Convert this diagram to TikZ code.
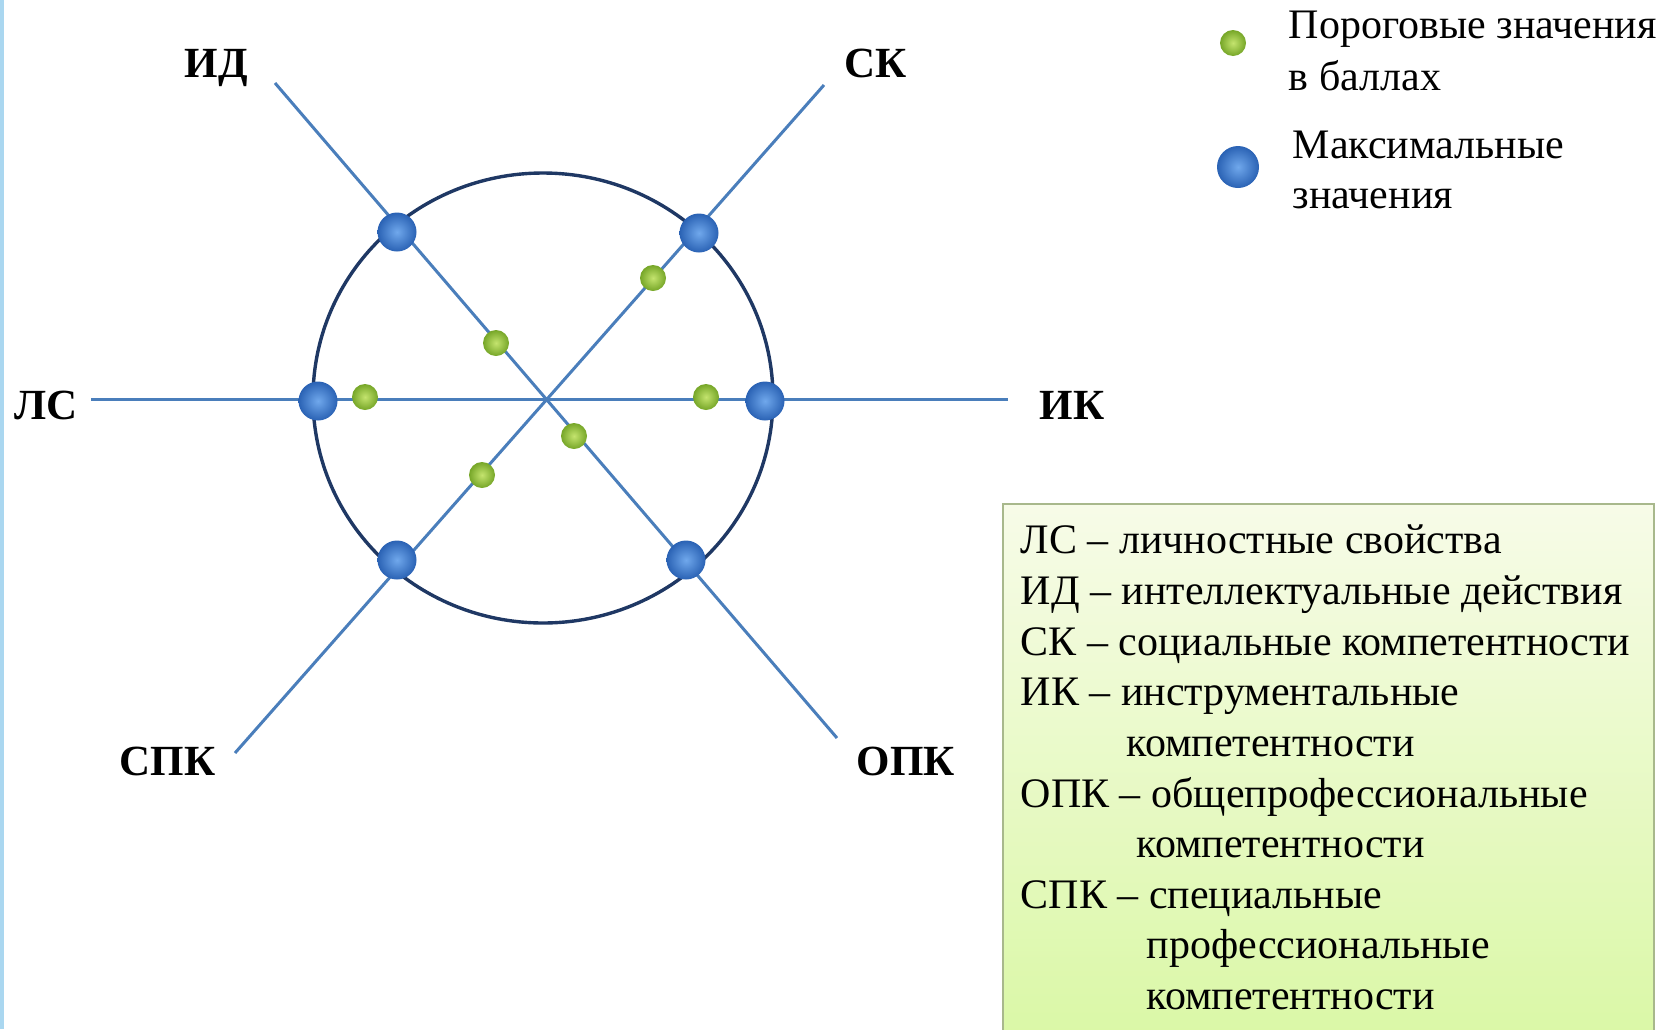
\documentclass[tikz,border=0pt]{standalone}
\usepackage{fontspec}
\setmainfont{Liberation Serif}

\definecolor{axisblue}{RGB}{74,126,187}
\definecolor{ringblue}{RGB}{31,56,100}
\definecolor{maxin}{RGB}{112,168,236}
\definecolor{maxout}{RGB}{42,98,180}
\definecolor{minin}{RGB}{196,228,110}
\definecolor{minout}{RGB}{118,166,40}

\tikzset{every picture/.style={line width=0.75pt}}
\tikzset{
  axis/.style={draw=axisblue, line width=1.5pt},
  maxdot/.style={circle, inner sep=0pt, minimum size=19.5pt, shading=radial, inner color=maxin, outer color=maxout},
  mindot/.style={circle, inner sep=0pt, minimum size=13pt, shading=radial, inner color=minin, outer color=minout},
  lbl/.style={anchor=base west, inner sep=0pt, font=\fontsize{21.5}{25}\selectfont\bfseries},
  txt/.style={anchor=base west, inner sep=0pt, font=\fontsize{21}{25}\selectfont}
}

\begin{document}
\begin{tikzpicture}[x=0.5pt,y=0.5pt,yscale=-1,xscale=1]
\useasboundingbox (0,0) rectangle (1672,1029);

%Shape: Rectangle [left strip]
\fill [color={rgb, 255:red, 170; green, 215; blue, 240 }] (0,0) rectangle (4,1029);

%Coordinates
\coordinate (c) at (545,398);
\coordinate (ls-end) at (91,399);
\coordinate (ik-end) at (1008,399);
\coordinate (id-end) at (275,83);
\coordinate (opk-end) at (837,738);
\coordinate (sk-end) at (824,85);
\coordinate (spk-end) at (235,753);

%Shape: Ellipse
\draw [color=ringblue, line width=1.7pt] (543,398) ellipse (230 and 225);

%Straight Lines
\draw [axis] (ls-end) -- (ik-end);
\draw [axis] (id-end) -- (opk-end);
\draw [axis] (sk-end) -- (spk-end);

%Max dots
\node [maxdot] (ls-max) at (318,401) {};
\node [maxdot] (ik-max) at (765,401) {};
\node [maxdot] (id-max) at (397,232) {};
\node [maxdot] (sk-max) at (699,233) {};
\node [maxdot] (spk-max) at (397,560) {};
\node [maxdot] (opk-max) at (686,560) {};

%Threshold dots
\node [mindot] (ls-min) at (365,397) {};
\node [mindot] (ik-min) at (706,397) {};
\node [mindot] (id-min) at (496,343) {};
\node [mindot] (opk-min) at (574,436) {};
\node [mindot] (sk-min) at (653,278) {};
\node [mindot] (spk-min) at (482,475) {};

% Text Node
\node [lbl] (id-lbl) at (184,77) {ИД};
% Text Node
\node [lbl] (sk-lbl) at (844,77) {СК};
% Text Node
\node [lbl] (ls-lbl) at (14,419) {ЛС};
% Text Node
\node [lbl] (ik-lbl) at (1039,419) {ИК};
% Text Node
\node [lbl] (spk-lbl) at (119,775) {СПК};
% Text Node
\node [lbl] (opk-lbl) at (856,775) {ОПК};

%Legend
\node [mindot] (leg-min) at (1233,43) {};
\node [maxdot, minimum size=21pt] (leg-max) at (1238,167) {};
% Text Node
\node [txt] (leg-min-t1) at (1288,38) {Пороговые значения};
% Text Node
\node [txt] (leg-min-t2) at (1288,90) {в баллах};
% Text Node
\node [txt] (leg-max-t1) at (1292,158) {Максимальные};
% Text Node
\node [txt] (leg-max-t2) at (1292,208) {значения};

%Shape: Rectangle [key box]
\draw [draw={rgb, 255:red, 168; green, 184; blue, 140 }, line width=1pt, top color={rgb, 255:red, 247; green, 251; blue, 232 }, bottom color={rgb, 255:red, 218; green, 248; blue, 166 }] (1003,504) rectangle (1654,1040);

% Text Node
\node [txt] (key-1) at (1020,553) {ЛС – личностные свойства};
% Text Node
\node [txt] (key-2) at (1020,604) {ИД – интеллектуальные действия};
% Text Node
\node [txt] (key-3) at (1020,655) {СК – социальные компетентности};
% Text Node
\node [txt] (key-4) at (1020,705) {ИК – инструментальные};
% Text Node
\node [txt] (key-5) at (1126,756) {компетентности};
% Text Node
\node [txt] (key-6) at (1020,807) {ОПК – общепрофессиональные};
% Text Node
\node [txt] (key-7) at (1136,857) {компетентности};
% Text Node
\node [txt] (key-8) at (1020,908) {СПК – специальные};
% Text Node
\node [txt] (key-9) at (1146,958) {профессиональные};
% Text Node
\node [txt] (key-10) at (1146,1009) {компетентности};

\end{tikzpicture}
\end{document}
